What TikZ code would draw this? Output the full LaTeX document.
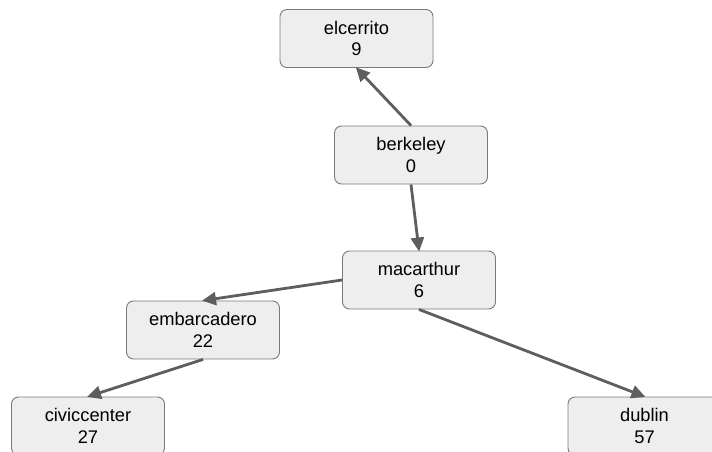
\documentclass[tikz,border=0pt]{standalone}
\usepackage{fontspec}
\setmainfont{Liberation Sans}
\usetikzlibrary{arrows.meta}
\definecolor{boxfill}{HTML}{EEEEEE}
\definecolor{boxline}{HTML}{7A7A7A}
\definecolor{edgecol}{HTML}{5E5E5E}
\begin{document}
\begin{tikzpicture}[x=1pt,y=-1pt,
  station/.style={draw=boxline, line width=0.9pt, fill=boxfill, rounded corners=7pt,
    minimum width=153pt, minimum height=58pt, inner sep=0pt, align=center,
    text depth=-3pt,
    font=\fontsize{18.3pt}{21.7pt}\selectfont},
  link/.style={draw=edgecol, line width=2.8pt,
    -{Triangle[length=14pt,width=13pt]}, shorten >=-1pt}]
  \clip (0,0) rectangle (712,452);
  \useasboundingbox (0,0) rectangle (712,452);
  % stations with their distances
  \node[station] (elcerrito)   at (356.5,38.5) {elcerrito\\9};
  \node[station] (berkeley)    at (411,155)    {berkeley\\0};
  \node[station] (macarthur)   at (419,280)    {macarthur\\6};
  \node[station] (embarcadero) at (203,330)    {embarcadero\\22};
  \node[station] (civiccenter) at (88,426)     {civiccenter\\27};
  \node[station] (dublin)      at (644.5,426)  {dublin\\57};
  % tree edges
  \draw[link] (berkeley.north)  -- (elcerrito.south);
  \draw[link] (berkeley.south)  -- (macarthur.north);
  \draw[link] (macarthur.west)  -- (embarcadero.north);
  \draw[link] (embarcadero.south) -- (civiccenter.north);
  \draw[link] (macarthur.south) -- (dublin.north);
\end{tikzpicture}
\end{document}
